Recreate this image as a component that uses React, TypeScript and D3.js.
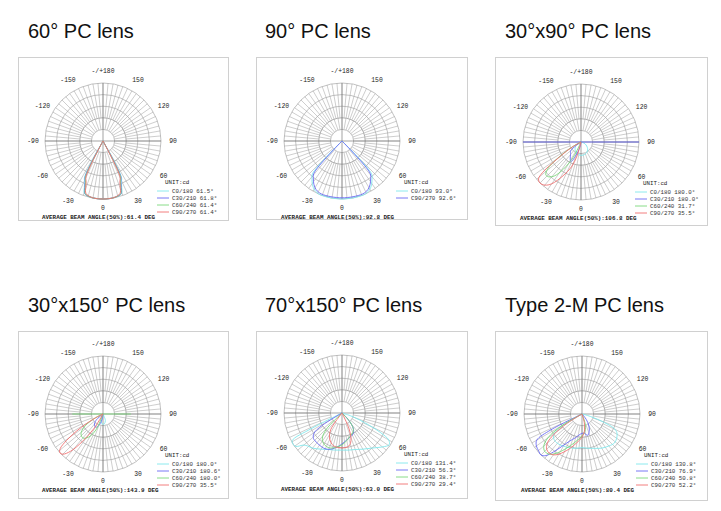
import React from "react";
import * as d3 from "d3";

type P = [number, number];

// ---------- titles / labels ----------
const titles = ["60° PC lens", "90° PC lens", "30°x90° PC lens", "30°x150° PC lens", "70°x150° PC lens", "Type 2-M PC lens"];
const angleTicks = [180, 150, 120, 90, 60, 30, 0, -30, -60, -90, -120, -150];
const angleTickLabels = ["-/+180", "150", "120", "90", "60", "30", "0", "-30", "-60", "-90", "-120", "-150"];
const seriesNames4 = ["C0/180", "C30/210", "C60/240", "C90/270"];
const seriesNames2 = ["C0/180", "C90/270"];
const colors4 = ["#7fe8ec", "#6a6af4", "#7ad87a", "#f07070"];
const colors2 = ["#7fe8ec", "#6a6af4"];

// beam angles (legend) and average text
const beam1 = ["61.5°", "61.8°", "61.4°", "61.4°"];
const beam2 = ["93.0°", "92.6°"];
const beam3 = ["180.0°", "180.0°", "31.7°", "35.5°"];
const beam4 = ["180.0°", "180.6°", "180.0°", "35.5°"];
const beam5 = ["131.4°", "56.3°", "38.7°", "29.4°"];
const beam6 = ["130.8°", "76.9°", "50.8°", "52.2°"];
const avgBeam = ["61.4", "92.8", "106.8", "143.9", "63.0", "80.4"];

// ---------- curves: [gamma deg, relative intensity] ----------
const p1c0: P[] = [[-31, 0], [-27, 0.7], [-24, 0.78], [-22, 0.86], [-19.5, 0.96], [-14, 0.99], [-6, 1.0], [0, 1.0], [6, 1.0], [14, 0.99], [19.5, 0.96], [22, 0.86], [24, 0.78], [27, 0.7], [31, 0]];
const p1c30: P[] = [[-30, 0], [-26.5, 0.69], [-23.5, 0.77], [-21.5, 0.86], [-19, 0.96], [-13, 0.99], [-6, 1.0], [0, 1.0], [6, 1.0], [13, 0.99], [19, 0.96], [21.5, 0.86], [23.5, 0.77], [26.5, 0.69], [30, 0]];
const p1c60: P[] = [[-30, 0], [-26, 0.69], [-23, 0.77], [-21, 0.86], [-18.5, 0.96], [-13, 0.99], [-6, 1.0], [0, 1.0], [6, 1.0], [13, 0.99], [18.5, 0.96], [21, 0.86], [23, 0.77], [26, 0.69], [30, 0]];
const p1c90: P[] = [[-29, 0], [-25.5, 0.68], [-22.5, 0.76], [-20.5, 0.85], [-18, 0.95], [-12, 0.99], [-6, 1.0], [0, 1.0], [6, 1.0], [12, 0.99], [18, 0.95], [20.5, 0.85], [22.5, 0.76], [25.5, 0.68], [29, 0]];

const p2c0: P[] = [[-46, 0], [-42, 0.76], [-38, 0.84], [-34, 0.91], [-29, 0.97], [-22, 1.0], [0, 1.0], [22, 1.0], [29, 0.97], [34, 0.91], [38, 0.84], [42, 0.76], [46, 0]];
const p2c90: P[] = [[-45, 0], [-41, 0.74], [-37, 0.82], [-33, 0.89], [-28, 0.95], [-21, 0.98], [0, 0.98], [21, 0.98], [28, 0.95], [33, 0.89], [37, 0.82], [41, 0.74], [45, 0]];

const p3c0: P[] = [[-80, 0], [-60, 0.09], [-40, 0.16], [-20, 0.21], [0, 0.23], [20, 0.22], [40, 0.18], [60, 0.1], [80, 0.02], [95, 0]];
const p3c30: P[] = [[-62, 0], [-50, 0.23], [-40, 0.28], [-32, 0.35], [-27, 0.38], [-20, 0.22], [-10, 0.06], [0, 0]];
const p3c30spike: P[] = [[-90, 1.0], [0, 0], [90, 1.0]];
const p3c60: P[] = [[-18, 0], [-27, 0.3], [-33, 0.56], [-38, 0.74], [-43, 0.82], [-47, 0.83], [-51, 0.74], [-55, 0.5], [-59, 0.25], [-64, 0.06], [-68, 0]];
const p3c90: P[] = [[-10, 0], [-16, 0.25], [-21, 0.46], [-28, 0.66], [-35, 0.88], [-40, 0.97], [-45, 1.0], [-49, 0.97], [-51.5, 0.85], [-53.5, 0.62], [-56, 0.4], [-60, 0.18], [-66, 0]];

const p4c0: P[] = [[-35, 0], [-20, 0.1], [-8, 0.16], [0, 0.18], [8, 0.17], [20, 0.12], [35, 0]];
const p4c30: P[] = [[-62, 0], [-48, 0.16], [-38, 0.24], [-28, 0.26], [-18, 0.19], [-8, 0.08], [0, 0]];
const p4c60: P[] = [[-15, 0], [-24, 0.3], [-32, 0.47], [-40, 0.54], [-48, 0.51], [-55, 0.4], [-62, 0.2], [-70, 0]];
const p4c60spike: P[] = [[-90, 0.53], [0, 0], [90, 0.48]];
const p4c90: P[] = [[-25, 0], [-32, 0.3], [-37, 0.6], [-41, 0.85], [-45, 0.98], [-48, 1.0], [-51, 0.95], [-54, 0.78], [-57, 0.55], [-60, 0.32], [-64, 0.1], [-68, 0]];

const p5c0: P[] = [[-66, 0], [-63, 0.6], [-61, 0.98], [-57, 1.0], [-54, 0.98], [-50, 0.86], [-46, 0.82], [-40, 0.79], [-30, 0.72], [-20, 0.67], [-10, 0.65], [0, 0.64], [10, 0.65], [20, 0.67], [30, 0.72], [40, 0.79], [50, 0.91], [56, 0.98], [60, 0.93], [63, 0.75], [67, 0.42], [72, 0.15], [78, 0]];
const p5c30: P[] = [[-62, 0], [-58, 0.4], [-54, 0.6], [-48, 0.66], [-40, 0.67], [-32, 0.68], [-24, 0.68], [-15, 0.64], [-5, 0.57], [5, 0.5], [15, 0.45], [25, 0.42], [32, 0.38], [38, 0.3], [45, 0.12], [50, 0]];
const p5c60: P[] = [[-50, 0], [-44, 0.39], [-38, 0.55], [-30, 0.62], [-20, 0.64], [-10, 0.6], [0, 0.55], [10, 0.48], [20, 0.42], [30, 0.38], [36, 0.33], [42, 0.2], [48, 0]];
const p5c90: P[] = [[-42, 0], [-34, 0.35], [-25, 0.5], [-15, 0.58], [-5, 0.6], [5, 0.6], [12, 0.58], [18, 0.5], [24, 0.3], [30, 0]];

const p6c0: P[] = [[-62, 0], [-58, 0.45], [-54, 0.6], [-48, 0.65], [-40, 0.66], [-30, 0.64], [-20, 0.62], [-10, 0.6], [0, 0.58], [10, 0.6], [20, 0.63], [30, 0.68], [40, 0.72], [48, 0.75], [55, 0.73], [62, 0.68], [66, 0.6], [70, 0.35], [75, 0.1], [80, 0]];
const p6c30: P[] = [[-66, 0], [-63, 0.6], [-60, 0.9], [-55, 0.96], [-50, 0.98], [-45, 1.0], [-41, 0.95], [-37, 0.82], [-32, 0.66], [-25, 0.52], [-15, 0.42], [-5, 0.35], [5, 0.33], [15, 0.38], [22, 0.33], [30, 0.24], [38, 0.12], [45, 0]];
const p6c60: P[] = [[-64, 0], [-60, 0.4], [-55, 0.72], [-50, 0.86], [-45, 0.91], [-40, 0.9], [-35, 0.84], [-30, 0.75], [-20, 0.58], [-10, 0.46], [0, 0.38], [10, 0.3], [18, 0.18], [25, 0]];
const p6c90: P[] = [[-62, 0], [-58, 0.3], [-54, 0.6], [-50, 0.78], [-45, 0.86], [-40, 0.88], [-35, 0.86], [-30, 0.8], [-20, 0.64], [-10, 0.5], [0, 0.4], [8, 0.3], [15, 0.15], [22, 0]];

// ---------- layout ----------
const W = 721, H = 511;
const R = 58;

type Panel = {
  title: string; tx: number; ty: number;
  box: [number, number, number, number];
  cx: number; cy: number;
  curves: { pts: P[]; color: string; linear?: boolean }[];
  names: string[]; beams: string[]; colors: string[]; avg: string;
};

const panels: Panel[] = [
  { title: titles[0], tx: 28, ty: 38, box: [18, 57, 210, 163], cx: 103, cy: 141,
    curves: [{ pts: p1c0, color: colors4[0] }, { pts: p1c30, color: colors4[1] }, { pts: p1c60, color: colors4[2] }, { pts: p1c90, color: colors4[3] }],
    names: seriesNames4, beams: beam1, colors: colors4, avg: avgBeam[0] },
  { title: titles[1], tx: 265, ty: 38, box: [256, 57, 211, 162], cx: 342, cy: 141,
    curves: [{ pts: p2c0, color: colors2[0] }, { pts: p2c90, color: colors2[1] }],
    names: seriesNames2, beams: beam2, colors: colors2, avg: avgBeam[1] },
  { title: titles[2], tx: 505, ty: 38, box: [495, 57, 212, 168], cx: 581, cy: 142,
    curves: [{ pts: p3c0, color: colors4[0] }, { pts: p3c30, color: colors4[1] }, { pts: p3c30spike, color: colors4[1], linear: true }, { pts: p3c60, color: colors4[2] }, { pts: p3c90, color: colors4[3] }],
    names: seriesNames4, beams: beam3, colors: colors4, avg: avgBeam[2] },
  { title: titles[3], tx: 28, ty: 312, box: [18, 331, 210, 167], cx: 103, cy: 414,
    curves: [{ pts: p4c0, color: colors4[0] }, { pts: p4c30, color: colors4[1] }, { pts: p4c60, color: colors4[2] }, { pts: p4c60spike, color: colors4[2], linear: true }, { pts: p4c90, color: colors4[3] }],
    names: seriesNames4, beams: beam4, colors: colors4, avg: avgBeam[3] },
  { title: titles[4], tx: 265, ty: 312, box: [256, 331, 211, 167], cx: 342, cy: 413,
    curves: [{ pts: p5c0, color: colors4[0] }, { pts: p5c30, color: colors4[1] }, { pts: p5c60, color: colors4[2] }, { pts: p5c90, color: colors4[3] }],
    names: seriesNames4, beams: beam5, colors: colors4, avg: avgBeam[4] },
  { title: titles[5], tx: 505, ty: 312, box: [495, 331, 212, 169], cx: 582, cy: 414,
    curves: [{ pts: p6c0, color: colors4[0] }, { pts: p6c30, color: colors4[1] }, { pts: p6c60, color: colors4[2] }, { pts: p6c90, color: colors4[3] }],
    names: seriesNames4, beams: beam6, colors: colors4, avg: avgBeam[5] },
];

const rScale = d3.scaleLinear().domain([0, 1]).range([0, R]);
const aScale = d3.scaleLinear().domain([-180, 180]).range([2 * Math.PI, 0]);
const smoothLine = d3.lineRadial<P>().angle((d) => aScale(d[0])).radius((d) => rScale(d[1])).curve(d3.curveCatmullRom.alpha(0.5));
const straightLine = d3.lineRadial<P>().angle((d) => aScale(d[0])).radius((d) => rScale(d[1]));

const rings = [0.2, 0.4, 0.6, 0.8, 1.0];
const spokeDegs = d3.range(-175, 185, 5);
const polarXY = (deg: number, rr: number): [number, number] => {
  const t = (deg * Math.PI) / 180;
  return [rr * Math.sin(t), rr * Math.cos(t)];
};

const mono = "'Liberation Mono', 'DejaVu Sans Mono', monospace";

function PolarPanel({ p }: { p: Panel }) {
  const [bx, by, bw, bh] = p.box;
  return (
    <g>
      <rect x={bx + 0.5} y={by + 0.5} width={bw} height={bh} fill="#fff" stroke="#d0d0d0" strokeWidth={1} />
      <text x={p.tx} y={p.ty} fontFamily="'Liberation Sans', Arial, sans-serif" fontSize={20} fill="#111">{p.title}</text>
      <g transform={`translate(${p.cx},${p.cy})`}>
        {rings.map((k) => (
          <circle key={k} r={rScale(k)} fill="none" stroke={k === 0.4 ? "#7a7a7a" : "#999"} strokeWidth={0.6} />
        ))}
        {spokeDegs.map((deg) => {
          const inner = deg % 10 === 0 ? 0.2 : 0.4;
          const [x1, y1] = polarXY(deg, rScale(inner));
          const [x2, y2] = polarXY(deg, rScale(1));
          return <line key={deg} x1={x1} y1={y1} x2={x2} y2={y2} stroke="#9c9c9c" strokeWidth={0.5} />;
        })}
        <line x1={-rScale(1)} y1={0} x2={rScale(1)} y2={0} stroke="#666" strokeWidth={0.6} />
        <line x1={0} y1={-rScale(1)} x2={0} y2={rScale(1)} stroke="#666" strokeWidth={0.6} />
        {angleTicks.map((deg, i) => {
          const rr = deg === 0 ? R + 9 : R + 12;
          const [x, y] = polarXY(deg, rr);
          return (
            <text key={deg} x={x} y={y} textAnchor="middle" dominantBaseline="central" fontFamily={mono} fontSize={6.4} fill="#222">
              {angleTickLabels[i]}
            </text>
          );
        })}
        {p.curves.map((c, i) => (
          <path key={i} d={(c.linear ? straightLine : smoothLine)(c.pts) || ""} fill="none" stroke={c.color} strokeWidth={0.9} />
        ))}
        <text x={62} y={43} fontFamily={mono} fontSize={5.8} fill="#222">UNIT:cd</text>
        {p.names.map((n, i) => (
          <g key={n} transform={`translate(0,${50 + i * 7})`}>
            <line x1={54} x2={66} y1={0} y2={0} stroke={p.colors[i]} strokeWidth={0.9} />
            <text x={69} y={0} dominantBaseline="central" fontFamily={mono} fontSize={5.8} fill="#333">{`${n} ${p.beams[i]}`}</text>
          </g>
        ))}
        <text x={-61} y={77.5} fontFamily={mono} fontWeight="bold" fontSize={5.9} fill="#222">{`AVERAGE BEAM ANGLE(50%):${p.avg} DEG`}</text>
      </g>
    </g>
  );
}

export default function App() {
  return (
    <svg width={W} height={H} style={{ position: "absolute", left: 0, top: 0, background: "#fff" }}>
      <rect width={W} height={H} fill="#fff" />
      {panels.map((p, i) => (
        <PolarPanel key={i} p={p} />
      ))}
    </svg>
  );
}
